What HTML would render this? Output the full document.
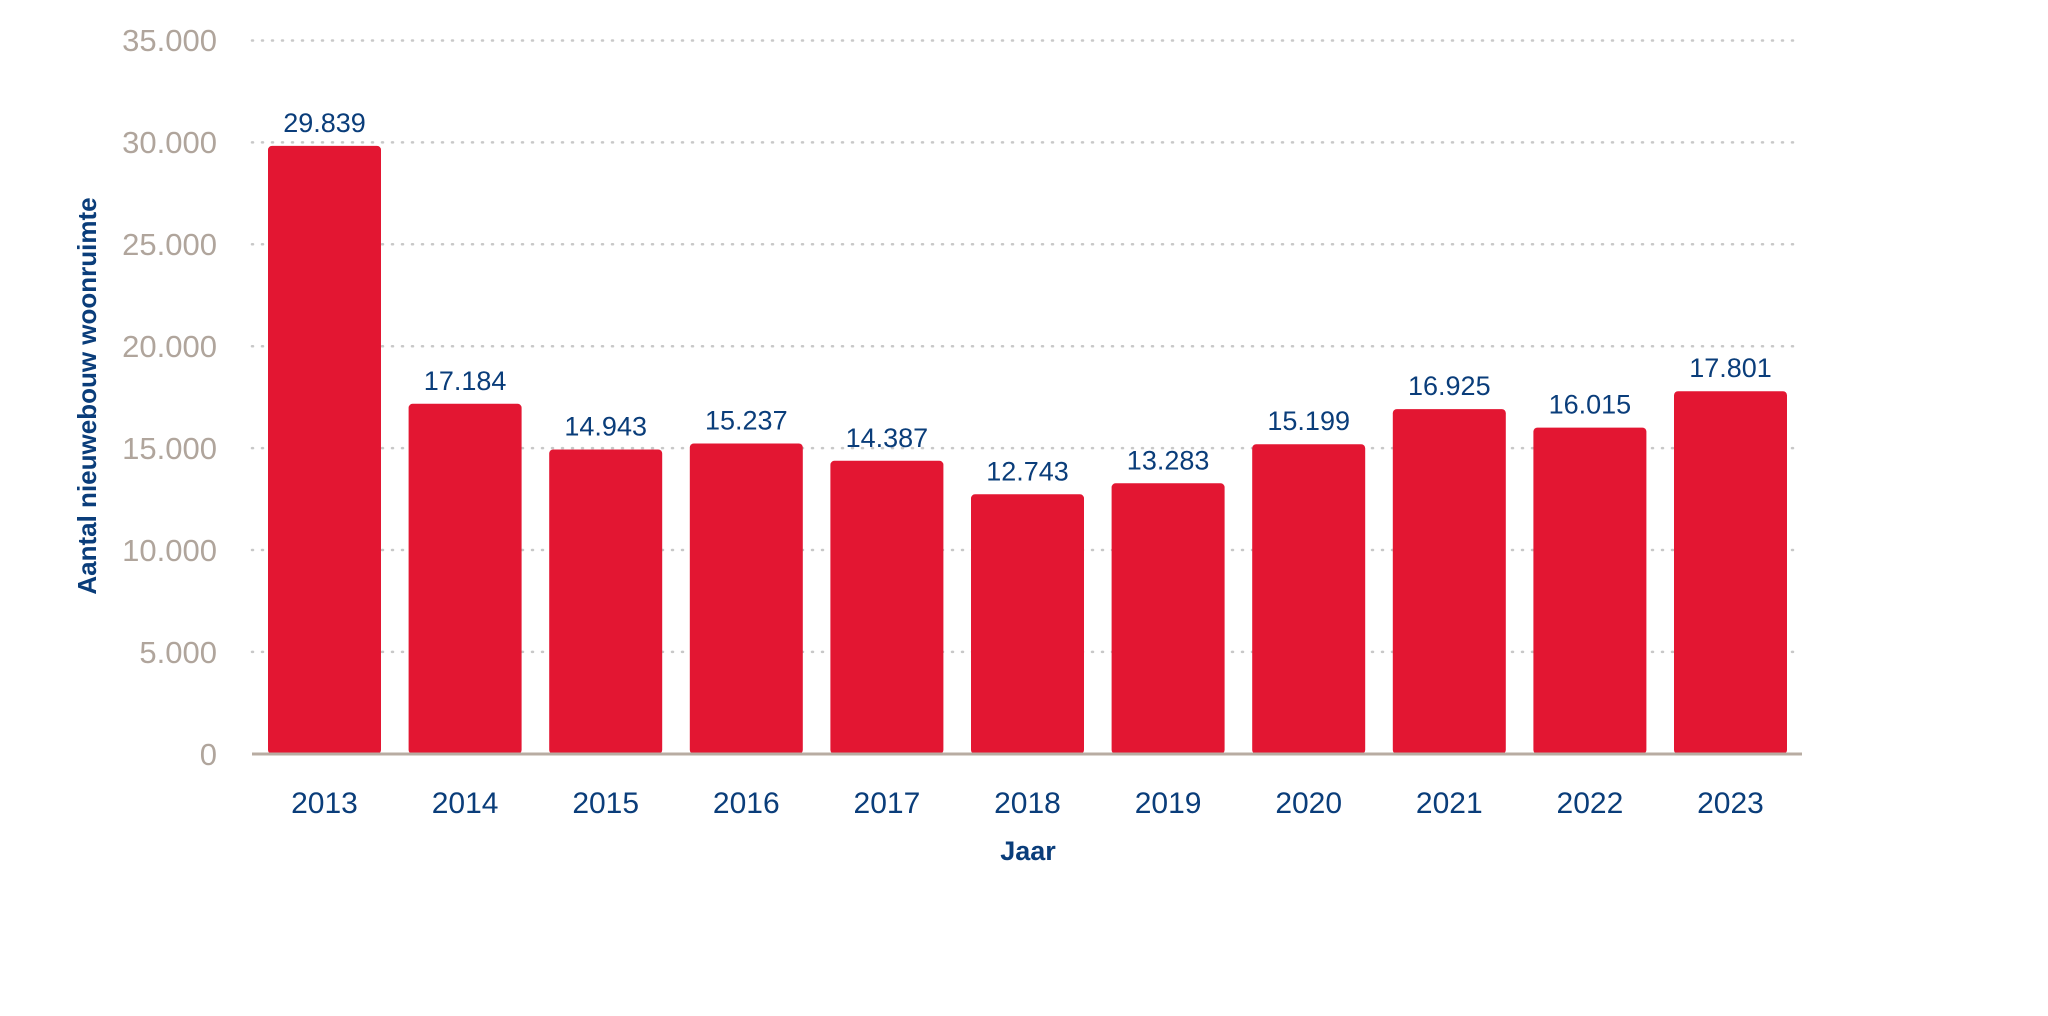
<!DOCTYPE html>
<html><head><meta charset="utf-8"><style>
html,body{margin:0;padding:0;background:#fff;}
svg{display:block;font-family:"Liberation Sans",sans-serif;}
</style></head><body>
<svg width="2048" height="1016" viewBox="0 0 2048 1016" xmlns="http://www.w3.org/2000/svg">
<g stroke="#c8c8c8" stroke-width="2.5" stroke-dasharray="1 9" stroke-linecap="round">
<line x1="252" x2="1802" y1="40.5" y2="40.5"/>
<line x1="252" x2="1802" y1="142.4" y2="142.4"/>
<line x1="252" x2="1802" y1="244.3" y2="244.3"/>
<line x1="252" x2="1802" y1="346.2" y2="346.2"/>
<line x1="252" x2="1802" y1="448.1" y2="448.1"/>
<line x1="252" x2="1802" y1="550" y2="550"/>
<line x1="252" x2="1802" y1="651.9" y2="651.9"/>
</g>
<g fill="#b0a59c" font-size="31" text-anchor="end">
<text x="217" y="51">35.000</text>
<text x="217" y="153">30.000</text>
<text x="217" y="255">25.000</text>
<text x="217" y="357">20.000</text>
<text x="217" y="459">15.000</text>
<text x="217" y="561">10.000</text>
<text x="217" y="663">5.000</text>
<text x="217" y="765">0</text>
</g>
<g id="bars" fill="#e31632"></g>
<line x1="252" x2="1802" y1="754" y2="754" stroke="#b8aca2" stroke-width="3"/>
<g id="lbl" fill="#0a3d7a" text-anchor="middle"></g>
<text x="1028" y="860" fill="#0a3d7a" font-size="27" font-weight="bold" text-anchor="middle">Jaar</text>
<text transform="translate(96,396) rotate(-90)" fill="#0a3d7a" font-size="26" font-weight="bold" text-anchor="middle">Aantal nieuwebouw woonruimte</text>
<script>
var v=[29839,17184,14943,15237,14387,12743,13283,15199,16925,16015,17801];
var ns="http://www.w3.org/2000/svg",b=document.getElementById('bars'),l=document.getElementById('lbl');
v.forEach(function(d,i){
 var x=268+i*140.6,h=d/5000*101.9,y=754-h;
 var r=document.createElementNS(ns,'rect');
 r.setAttribute('x',x);r.setAttribute('y',y);r.setAttribute('width',113);r.setAttribute('height',h);r.setAttribute('rx',4);
 b.appendChild(r);
 var t=document.createElementNS(ns,'text');
 t.setAttribute('x',x+56.5);t.setAttribute('y',y-14);t.setAttribute('font-size','27');
 t.textContent=(d/1000).toFixed(3);l.appendChild(t);
 var t2=document.createElementNS(ns,'text');
 t2.setAttribute('x',x+56.5);t2.setAttribute('y',813);t2.setAttribute('font-size','30');
 t2.textContent=2013+i;l.appendChild(t2);
});
</script>
</svg>
</body></html>
